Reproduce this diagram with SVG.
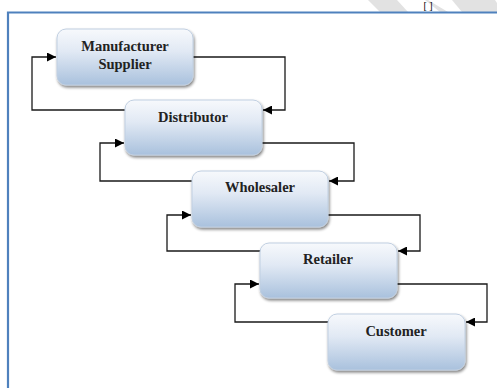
<svg xmlns="http://www.w3.org/2000/svg" width="497" height="388" viewBox="0 0 497 388">
<defs>
<linearGradient id="g" x1="0" y1="0" x2="0" y2="1">
<stop offset="0" stop-color="#f7f9fc"/>
<stop offset="0.4" stop-color="#e1e9f4"/>
<stop offset="1" stop-color="#a9c1dd"/>
</linearGradient>
<filter id="sh" x="-10%" y="-10%" width="130%" height="140%">
<feGaussianBlur in="SourceAlpha" stdDeviation="1.5"/>
<feOffset dx="1" dy="2" result="b"/>
<feComponentTransfer><feFuncA type="linear" slope="0.5"/></feComponentTransfer>
<feMerge><feMergeNode/><feMergeNode in="SourceGraphic"/></feMerge>
</filter>
<marker id="ah" viewBox="0 0 10 10" refX="10" refY="5" markerWidth="9" markerHeight="9" markerUnits="userSpaceOnUse" orient="auto">
<path d="M0,0 L10,5 L0,10 z" fill="#000"/>
</marker>
</defs>
<style>
.box{fill:url(#g);stroke:#c0cfe1;stroke-width:1;filter:url(#sh)}
.t{font-family:"Liberation Serif","Times New Roman",serif;font-weight:bold;font-size:14.5px;fill:#222;text-anchor:middle}
.c{fill:none;stroke:#1a1a1a;stroke-width:1.3;marker-end:url(#ah)}
.frame{stroke:#4f81bd;stroke-width:2.2;fill:none}
</style>
<rect width="497" height="388" fill="#fff"/>
<polygon points="368,0 397,0 408,12 380,12" fill="#e2e2e2"/>
<polygon points="425,0 495,0 497,3 497,12 440,12" fill="#e2e2e2"/>
<polygon points="428,0 452,0 462,12 448,12" fill="#fff"/>
<text x="428" y="9" style="font-family:'Liberation Serif',serif;font-size:10px;fill:#000;text-anchor:middle">[ ]</text>
<path class="frame" d="M8,388 V12.5 H497"/>
<g id="connectors">
<path class="c" d="M125,110 H32 V57 H56"/>
<path class="c" d="M193,57 H285 V110 H263"/>
<path class="c" d="M192,181 H100 V143 H124"/>
<path class="c" d="M262,143 H354 V181 H329"/>
<path class="c" d="M261,251 H167 V215 H191"/>
<path class="c" d="M328,215 H420 V251 H398"/>
<path class="c" d="M328,322 H235 V284 H259"/>
<path class="c" d="M397,284 H487 V322 H466"/>
</g>
<g id="manufacturer">
<rect class="box" x="57" y="29" width="136" height="56" rx="9"/>
<text class="t" x="125" y="51">Manufacturer</text>
<text class="t" x="125" y="69">Supplier</text>
</g>
<g id="distributor">
<rect class="box" x="125" y="100" width="137" height="55" rx="9"/>
<text class="t" x="193" y="122">Distributor</text>
</g>
<g id="wholesaler">
<rect class="box" x="192" y="171" width="136" height="56" rx="9"/>
<text class="t" x="260" y="192">Wholesaler</text>
</g>
<g id="retailer">
<rect class="box" x="260" y="243" width="137" height="55" rx="9"/>
<text class="t" x="328" y="264">Retailer</text>
</g>
<g id="customer">
<rect class="box" x="328" y="314" width="137" height="56" rx="9"/>
<text class="t" x="396" y="336">Customer</text>
</g>
</svg>
